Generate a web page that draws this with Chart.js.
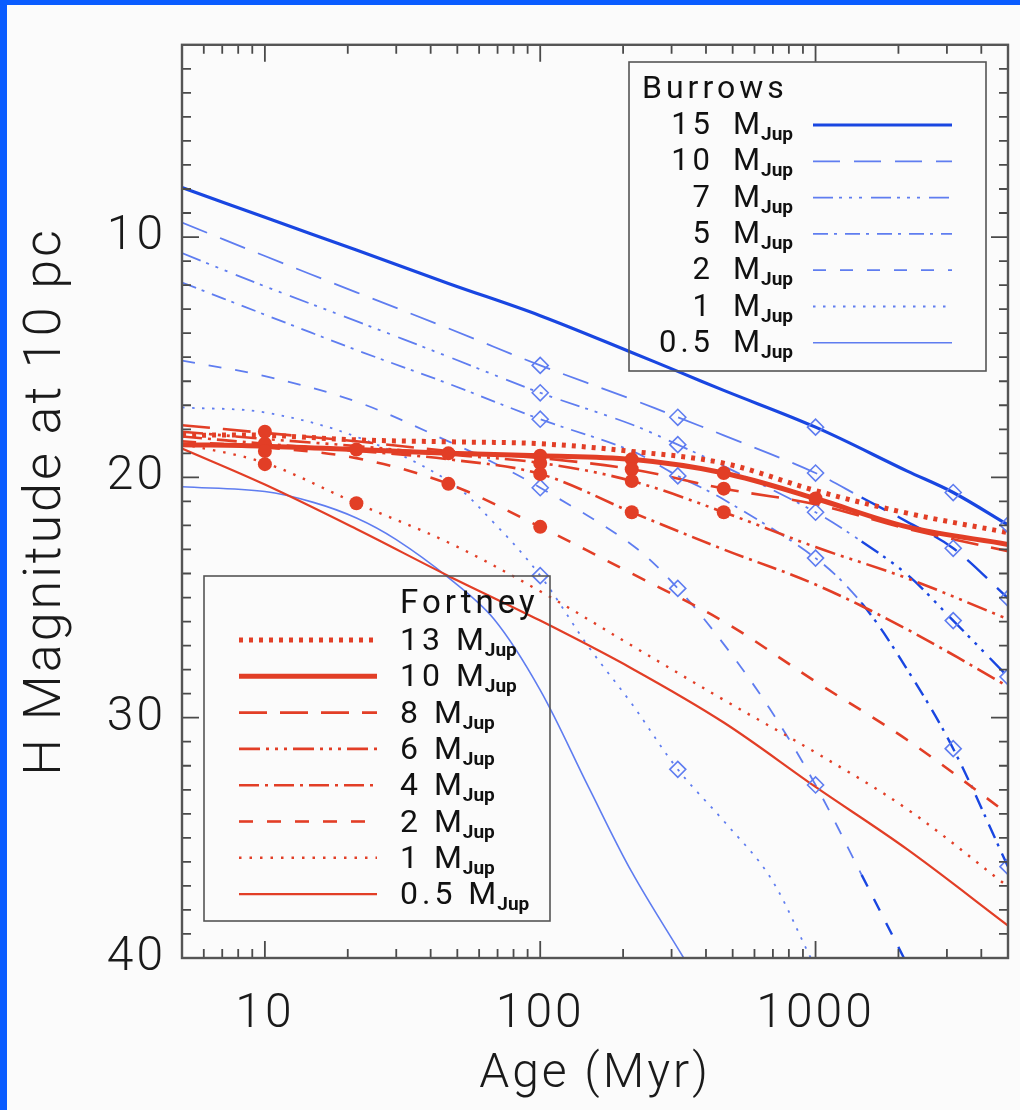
<!DOCTYPE html>
<html>
<head>
<meta charset="utf-8">
<title>H magnitude vs age</title>
<script src="https://cdn.jsdelivr.net/npm/chart.js@4.4.1/dist/chart.umd.min.js"></script>
<style>
  html, body { margin: 0; padding: 0; background: #fbfbfb; }
  canvas { display: block; }
</style>
</head>
<body>
<canvas id="chart" width="1020" height="1110"></canvas>
<script>
// Burrows tracks (age in Myr, H magnitude)
const ageB15 = [5, 10, 21.5, 46.4, 100, 215, 316, 464, 1000, 2154, 3162, 5000];
const magB15 = [7.94, 9.18, 10.54, 11.93, 13.27, 14.8, 15.59, 16.38, 17.91, 19.74, 20.63, 21.98];
const ageB10 = [5, 10, 21.5, 46.4, 100, 215, 316, 464, 1000, 1470, 2154, 3162, 5000];
const magB10 = [9.4, 10.79, 12.3, 13.8, 15.34, 16.75, 17.5, 18.25, 19.82, 20.84, 21.85, 22.95, 25.03];
const ageB7 = [5, 10, 21.5, 46.4, 100, 215, 316, 464, 1000, 1470, 2154, 3162, 5000];
const magB7 = [10.67, 12.05, 13.5, 14.98, 16.48, 17.8, 18.64, 19.53, 21.45, 22.67, 24.05, 25.96, 28.3];
const ageB5 = [5, 10, 21.5, 46.4, 100, 215, 316, 464, 1000, 1470, 2154, 3162, 5000];
const magB5 = [11.89, 13.23, 14.7, 16.1, 17.58, 18.9, 19.94, 20.92, 23.36, 25.23, 28.0, 31.29, 36.2];
const ageB2 = [5, 10, 21.5, 46.4, 68, 100, 215, 316, 464, 681, 1000, 1470, 2094];
const magB2 = [15.14, 15.79, 16.85, 18.5, 19.4, 20.43, 22.8, 24.62, 26.94, 29.62, 32.8, 36.54, 40];
const ageB1 = [5, 10, 21.5, 46.4, 68, 100, 150, 215, 316, 464, 681, 961];
const magB1 = [17.09, 17.3, 18.31, 20.14, 21.9, 24.09, 27.06, 29.42, 32.15, 34.3, 36.6, 40];
const ageB05 = [5, 10, 15, 21.5, 30, 46.4, 68, 100, 150, 215, 332];
const magB05 = [20.39, 20.59, 21.04, 21.69, 22.59, 24.17, 25.9, 28.85, 32.9, 36.42, 40];

// Fortney tracks, all sampled at the same ages
const ageF = [5, 10, 21.5, 46.4, 100, 215, 464, 1000, 2154, 5000];
const magF13 = [18.25, 18.25, 18.44, 18.52, 18.6, 18.92, 19.41, 20.55, 21.49, 22.3];
const magF10 = [18.64, 18.7, 18.84, 19.0, 19.1, 19.25, 19.82, 20.88, 22.06, 22.79];
const magF8 = [17.83, 18.15, 18.5, 18.9, 19.2, 19.66, 20.47, 21.12, 22.14, 23.07];
const magF6 = [18.1, 18.4, 18.7, 19.05, 19.4, 20.15, 21.45, 22.9, 24.2, 25.9];
const magF4 = [18.3, 18.6, 18.9, 19.25, 19.86, 21.45, 23.0, 24.46, 26.33, 28.7];
const magF2 = [18.5, 18.75, 19.2, 20.27, 22.06, 24.0, 26.0, 28.5, 30.93, 34.0];
const magF1 = [18.6, 19.4, 21.08, 22.71, 24.74, 27.0, 29.26, 31.45, 33.81, 37.03];
const magF05 = [18.8, 20.3, 22.15, 24.1, 25.96, 27.95, 30.2, 32.88, 35.48, 38.65];

// model grid points
const circleAges = [10, 10, 10, 10, 21.5, 21.5, 46.4, 46.4, 100, 100, 100, 100, 215, 215, 215, 215, 464, 464, 464, 1000];
const circleMags = [18.1, 18.6, 18.9, 19.45, 18.84, 21.08, 19.0, 20.27, 19.1, 19.4, 19.86, 22.06, 19.25, 19.66, 20.15, 21.45, 19.82, 20.47, 21.45, 20.88];
const diamondAges = [1000, 3162, 5000, 100, 316, 1000, 3162, 5000, 100, 316, 1000, 3162, 5000, 100, 316, 1000, 3162, 5000, 100, 316, 1000, 100, 316];
const diamondMags = [17.91, 20.63, 21.98, 15.34, 17.5, 19.82, 22.95, 25.03, 16.48, 18.64, 21.45, 25.96, 28.3, 17.58, 19.94, 23.36, 31.29, 36.2, 20.43, 24.62, 32.8, 24.09, 32.15];

const xTicks = [10, 100, 1000];
const yTicks = [10, 20, 30, 40];
const burrowsMasses = ["15", "10", "7", "5", "2", "1", "0.5"];
const fortneyMasses = ["13", "10", "8", "6", "4", "2", "1", "0.5"];

const blueDark = "rgb(25, 70, 225)";
const blueLight = "rgb(95, 125, 240)";
const red = "rgb(226, 62, 38)";
const textFont = "Roboto, 'Open Sans', sans-serif";

const zip = (xs, ys) => xs.map((x, i) => ({ x: x, y: ys[i] }));

// dark thicker pieces on the old end of the Burrows tracks
const oldSegment = {
  borderColor: (c) => (c.p0.parsed.x >= 1470 ? blueDark : undefined),
  borderWidth: (c) => (c.p0.parsed.x >= 1470 ? 2.4 : undefined),
};

const burrowsStyles = [
  { color: blueDark, width: 3.2, dash: [] },
  { color: blueLight, width: 1.8, dash: [27, 14], segment: oldSegment },
  { color: blueLight, width: 1.8, dash: [20, 6, 3, 7, 3, 7, 3, 9], segment: oldSegment },
  { color: blueLight, width: 1.8, dash: [15, 6, 3, 8], segment: oldSegment },
  { color: blueLight, width: 1.8, dash: [13, 14], segment: oldSegment },
  { color: blueLight, width: 1.8, dash: [2.5, 7.5] },
  { color: blueLight, width: 1.6, dash: [] },
];
const burrowsData = [
  zip(ageB15, magB15), zip(ageB10, magB10), zip(ageB7, magB7), zip(ageB5, magB5),
  zip(ageB2, magB2), zip(ageB1, magB1), zip(ageB05, magB05),
];

const fortneyStyles = [
  { width: 5, dash: [4, 6] },
  { width: 5, dash: [] },
  { width: 2.6, dash: [28, 13] },
  { width: 2.6, dash: [21, 6, 3, 6, 3, 6, 3, 6] },
  { width: 2.6, dash: [20, 6, 3, 6] },
  { width: 2.6, dash: [14, 14] },
  { width: 2.4, dash: [2.5, 8] },
  { width: 2.2, dash: [] },
];
const fortneyData = [magF13, magF10, magF8, magF6, magF4, magF2, magF1, magF05].map((m) => zip(ageF, m));

const datasets = [
  {
    label: "Fortney grid points",
    data: zip(circleAges, circleMags),
    showLine: false,
    pointRadius: 7,
    pointBackgroundColor: red,
    pointBorderWidth: 0,
  },
  {
    label: "Burrows grid points",
    data: zip(diamondAges, diamondMags),
    showLine: false,
    pointStyle: "rectRot",
    pointRadius: 8,
    pointBorderColor: blueLight,
    pointBorderWidth: 1.6,
    pointBackgroundColor: "rgba(0,0,0,0)",
  },
];

fortneyMasses.forEach((m, i) => {
  datasets.push({
    label: "Fortney " + m + " MJup",
    group: "fortney",
    mass: m,
    data: fortneyData[i],
    borderColor: red,
    borderWidth: fortneyStyles[i].width,
    borderDash: fortneyStyles[i].dash,
    pointRadius: 0,
    tension: 0.35,
  });
});

burrowsMasses.forEach((m, i) => {
  const s = burrowsStyles[i];
  datasets.push({
    label: "Burrows " + m + " MJup",
    group: "burrows",
    mass: m,
    data: burrowsData[i],
    borderColor: s.color,
    borderWidth: s.width,
    borderDash: s.dash,
    segment: s.segment,
    pointRadius: 0,
    tension: 0.35,
  });
});

const backgroundPlugin = {
  id: "background",
  beforeDraw(chart) {
    const ctx = chart.ctx;
    ctx.fillStyle = "#fbfbfb";
    ctx.fillRect(0, 0, chart.width, chart.height);
    ctx.fillStyle = "#0a5cff";
    ctx.fillRect(0, 0, chart.width, 5);
    ctx.fillRect(0, 0, 7, chart.height);
    // wider letter spacing for the axis texts drawn next
    ctx.letterSpacing = "3px";
  },
};

// frame and inward ticks on all four sides
const framePlugin = {
  id: "frame",
  afterDatasetsDraw(chart) {
    const { ctx, chartArea: a } = chart;
    const xs = chart.scales.x;
    const ys = chart.scales.y;
    ctx.save();
    ctx.strokeStyle = "#4a4a4a";
    ctx.lineWidth = 1.8;
    ctx.beginPath();
    [1, 10, 100, 1000].forEach((dec) => {
      for (let k = 1; k <= 9; k++) {
        const v = k * dec;
        if (v < 5 || v > 5000) continue;
        const px = xs.getPixelForValue(v);
        const len = k === 1 ? 17 : 9;
        ctx.moveTo(px, a.bottom);
        ctx.lineTo(px, a.bottom - len);
        ctx.moveTo(px, a.top);
        ctx.lineTo(px, a.top + len);
      }
    });
    for (let v = 3; v < 40; v++) {
      const py = ys.getPixelForValue(v);
      const len = v % 10 === 0 ? 17 : 9;
      ctx.moveTo(a.left, py);
      ctx.lineTo(a.left + len, py);
      ctx.moveTo(a.right, py);
      ctx.lineTo(a.right - len, py);
    }
    ctx.stroke();
    ctx.lineWidth = 2.4;
    ctx.strokeStyle = "#555";
    ctx.strokeRect(a.left, a.top, a.right - a.left, a.bottom - a.top);
    ctx.restore();
  },
};

function drawSample(ctx, ds, x0, x1, y) {
  ctx.save();
  ctx.strokeStyle = ds.borderColor;
  ctx.lineWidth = ds.borderWidth;
  ctx.setLineDash(ds.borderDash || []);
  ctx.beginPath();
  ctx.moveTo(x0, y);
  ctx.lineTo(x1, y);
  ctx.stroke();
  ctx.restore();
}

function drawJup(ctx, x, y) {
  ctx.save();
  ctx.letterSpacing = "0px";
  ctx.font = "bold 19px " + textFont;
  ctx.textAlign = "left";
  ctx.fillText("Jup", x, y);
  ctx.restore();
}

const legendPlugin = {
  id: "modelLegends",
  afterDraw(chart) {
    const ctx = chart.ctx;
    const sets = chart.data.datasets;
    ctx.save();
    ctx.strokeStyle = "#555";
    ctx.lineWidth = 1.6;
    ctx.fillStyle = "#111";
    ctx.letterSpacing = "4px";
    ctx.textBaseline = "alphabetic";

    // Burrows box, upper right
    ctx.strokeRect(629, 62, 357, 309);
    ctx.font = "400 32px " + textFont;
    ctx.textAlign = "left";
    ctx.fillText("Burrows", 642, 98);
    sets.filter((d) => d.group === "burrows").forEach((ds, i) => {
      const y = 125 + i * 36.3;
      drawSample(ctx, ds, 813, 952, y);
      ctx.font = "400 31px " + textFont;
      ctx.textAlign = "right";
      ctx.fillText(ds.mass, 714, y + 9);
      ctx.textAlign = "left";
      ctx.fillText("M", 733, y + 9);
      drawJup(ctx, 733 + ctx.measureText("M").width - 3, y + 15);
    });

    // Fortney box, lower left
    ctx.strokeRect(204, 576, 346, 345);
    ctx.font = "400 33px " + textFont;
    ctx.textAlign = "left";
    ctx.fillText("Fortney", 400, 613);
    sets.filter((d) => d.group === "fortney").forEach((ds, i) => {
      const y = 640 + i * 36.3;
      drawSample(ctx, ds, 239, 377, y);
      ctx.font = "400 32px " + textFont;
      ctx.textAlign = "left";
      const txt = ds.mass + " M";
      ctx.fillText(txt, 400, y + 10);
      drawJup(ctx, 400 + ctx.measureText(txt).width - 3, y + 16);
    });
    ctx.restore();
  },
};

const axisFont = { family: textFont, size: 48, weight: 300 };

new Chart(document.getElementById("chart").getContext("2d"), {
  type: "line",
  data: { datasets: datasets },
  options: {
    responsive: false,
    animation: false,
    devicePixelRatio: 1,
    layout: { padding: { top: 24, right: 12, left: 0, bottom: 0 } },
    plugins: {
      legend: { display: false },
      tooltip: { enabled: false },
    },
    scales: {
      x: {
        type: "logarithmic",
        min: 5,
        max: 5000,
        afterBuildTicks: (s) => {
          s.ticks = xTicks.map((v) => ({ value: v }));
        },
        afterFit: (s) => {
          s.height = 152;
        },
        grid: { display: false, drawTicks: false },
        border: { display: false },
        ticks: {
          callback: (v) => String(v),
          font: axisFont,
          color: "#1a1a1a",
          padding: 28,
          maxRotation: 0,
          autoSkip: false,
        },
        title: {
          display: true,
          text: "Age (Myr)",
          font: axisFont,
          color: "#1a1a1a",
          padding: { top: 0, bottom: 6 },
        },
      },
      y: {
        type: "linear",
        reverse: true,
        min: 2,
        max: 40,
        afterBuildTicks: (s) => {
          s.ticks = yTicks.map((v) => ({ value: v }));
        },
        afterFit: (s) => {
          s.width = 182;
        },
        grid: { display: false, drawTicks: false },
        border: { display: false },
        ticks: {
          font: axisFont,
          color: "#1a1a1a",
          padding: 16,
        },
        title: {
          display: true,
          text: "H Magnitude at 10 pc",
          font: { family: textFont, size: 52, weight: 300 },
          color: "#1a1a1a",
          padding: { top: 16, bottom: 0 },
        },
      },
    },
  },
  plugins: [backgroundPlugin, framePlugin, legendPlugin],
});
</script>
</body>
</html>
